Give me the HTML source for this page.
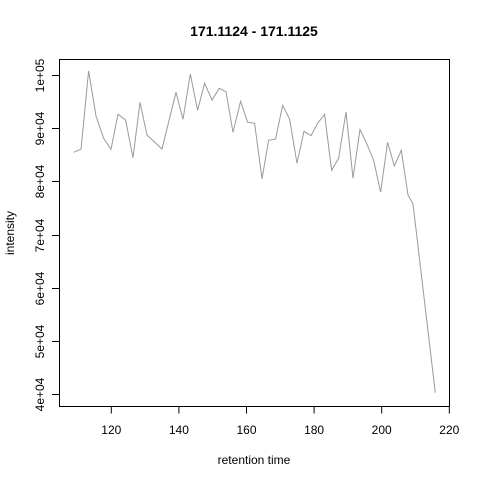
<!DOCTYPE html>
<html><head><meta charset="utf-8"><style>
body{margin:0;background:#fff}
svg text{font-family:"Liberation Sans",Arial,sans-serif;fill:#000}
</style></head><body>
<svg id="chart" width="480" height="480" xmlns="http://www.w3.org/2000/svg">
<rect width="480" height="480" fill="#fff"/>
<text x="254" y="36" text-anchor="middle" font-size="14" font-weight="bold">171.1124 - 171.1125</text>
<rect x="59.5" y="59.5" width="390" height="347" fill="none" stroke="#000" stroke-width="1"/>
<g id="xaxis"></g>
<g id="yaxis"></g>
<text x="254" y="464" text-anchor="middle" font-size="12">retention time</text>
<text x="0" y="0" transform="translate(14,233) rotate(-90)" text-anchor="middle" font-size="12">intensity</text>
<g id="series"></g>
</svg>
<script>
const retentionTimes=[108.85,111.04,113.28,115.47,117.72,119.91,121.98,124.23,126.42,128.49,130.56,132.78,135.0,137.07,139.14,141.21,143.37,145.53,147.60,149.79,151.95,153.93,156.0,158.25,160.33,162.4,164.59,166.54,168.61,170.68,172.75,174.94,177.01,179.08,181.04,183.11,185.18,187.25,189.44,191.51,193.58,195.65,197.6,199.67,201.75,203.73,205.8,207.78,209.26,215.86];
const intensities=[85470,86030,100750,92290,88100,86030,92610,91540,84450,94870,88720,87400,86090,91420,96750,91670,100190,93360,98440,95300,97500,96860,89230,95060,91110,90920,80450,87720,87970,94300,91730,83400,89420,88590,90920,92610,82080,84340,93040,80580,89790,86970,83960,78000,87350,82890,85840,77440,75750,40220];
const xTicks=[120,140,160,180,200,220];
const yTicks=[40000,50000,60000,70000,80000,90000,100000];
const yTickLabels=["4e+04","5e+04","6e+04","7e+04","8e+04","9e+04","1e+05"];
const NS="http://www.w3.org/2000/svg";
function xs(v){return 111.3+(v-120)*3.38;}
function ys(v){return 394-(v-40000)*(319/60000);}
function mk(tag,attrs,parent){const e=document.createElementNS(NS,tag);for(const k in attrs)e.setAttribute(k,attrs[k]);parent.appendChild(e);return e;}
const xa=document.getElementById('xaxis');
mk('line',{x1:xs(xTicks[0]),x2:xs(xTicks[xTicks.length-1]),y1:406.5,y2:406.5,stroke:'#000'},xa);
xTicks.forEach(t=>{
  const l=mk('line',{x1:xs(t),x2:xs(t),y1:406.5,y2:413.5,stroke:'#000'},xa);
  
  
  const tx=mk('text',{x:xs(t),y:434,'text-anchor':'middle','font-size':'12'},xa);
  tx.textContent=t;
  
  
});
const ya=document.getElementById('yaxis');
mk('line',{x1:59.5,x2:59.5,y1:ys(yTicks[0]),y2:ys(yTicks[yTicks.length-1]),stroke:'#000'},ya);
yTicks.forEach((t,i)=>{
  const y=Math.round(ys(t))+0.5;
  const l=mk('line',{x1:52,x2:59.5,y1:y,y2:y,stroke:'#000'},ya);
  
  
  const tx=mk('text',{x:0,y:0,transform:`translate(44,${y}) rotate(-90)`,'text-anchor':'middle','font-size':'12'},ya);
  tx.textContent=yTickLabels[i];
  
  
});
const pts=retentionTimes.map((x,i)=>xs(x).toFixed(1)+','+ys(intensities[i]).toFixed(1)).join(' ');
const line=mk('polyline',{points:pts,fill:'none',stroke:'#9a9a9a','stroke-width':'1'},document.getElementById('series'));


</script>
</body></html>
